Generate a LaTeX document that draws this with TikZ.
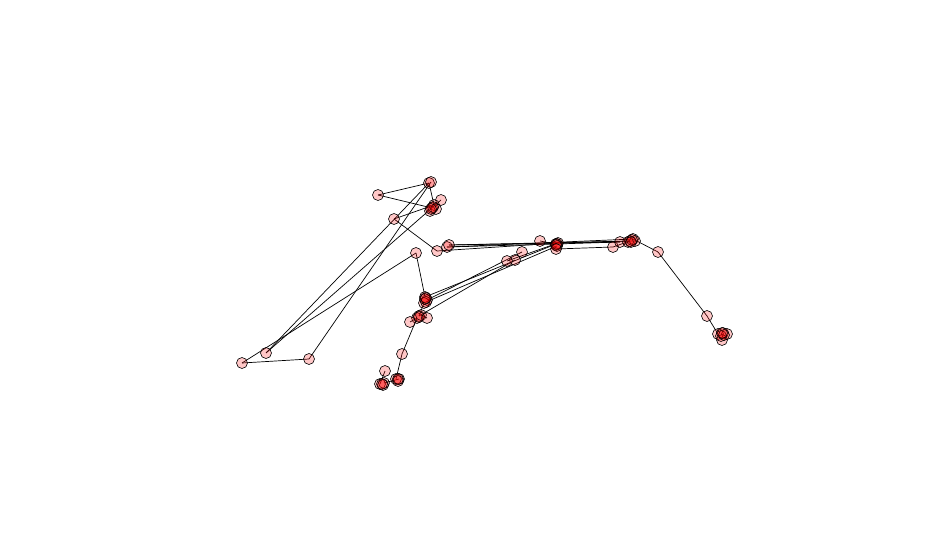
\documentclass[tikz,border=0pt]{standalone}
\usetikzlibrary{backgrounds}
\begin{document}
\begin{tikzpicture}[x=1pt,y=-1pt,
  vtx/.style={circle,draw=black,line width=0.6pt,fill=red,fill opacity=0.22,draw opacity=1,minimum size=11pt,inner sep=0pt},
  edge/.style={draw=black,line width=0.7pt}]
\useasboundingbox (0,0) rectangle (940,540);
\foreach \nm/\xx/\yy in {a1/429/183,a2/431/182,b/378/195,c/441/200,d1/432/208,d2/434/205,d3/430/211,d4/436/209,d5/433/207,d6/431/209,
  e/394/219,f/437/251,g1/447/247,g2/449/245,h/416/253,i/540/241,j1/556/244,j2/558/243,j3/557/246,j4/557/244,j5/556/245,k/556/249,
  l/522/252,m1/515/260,m2/507/261,n/613/247,o/620/242,p1/630/241,p2/633/239,p3/635/241,p4/628/242,p5/632/240,p6/631/242,
  q/658/252,r/707/316,s1/718/334,s2/723/333,s3/727/334,s4/722/340,s5/721/336,s6/724/335,s7/722/333,
  t1/425/297,t2/427/300,t3/424/303,t4/426/302,t5/425/299,t6/426/298,u1/419/316,u2/417/318,u3/421/315,u4/419/317,v/410/322,w/427/318,
  x/402/354,y/385/371,z1/380/384,z2/384/383,z3/383/385,z4/382/384,aa1/396/379,aa2/399/379,aa3/398/381,aa4/398/379,
  bb/242/363,cc/266/353,dd/309/359}
  {\node[vtx] (\nm) at (\xx,\yy) {};}
\begin{scope}[on background layer]
\foreach \p/\q in {b/a1,b/d1,a1/d2,a1/cc,a2/dd,c/cc,e/d2,e/f,h/bb,bb/dd,h/t1,
  g1/j1,g2/p1,f/j2,g1/p2,g2/o,i/j1,j1/o,j2/p3,k/n,n/p1,p2/q,q/r,r/s1,
  t1/j1,t2/l,u1/m1,t4/j3,m2/j2,t3/u1,u2/x,x/aa1,y/z1,z2/aa2,v/u2,w/u3}
  {\draw[edge] (\p.center) -- (\q.center);}
\end{scope}
\end{tikzpicture}
\end{document}
